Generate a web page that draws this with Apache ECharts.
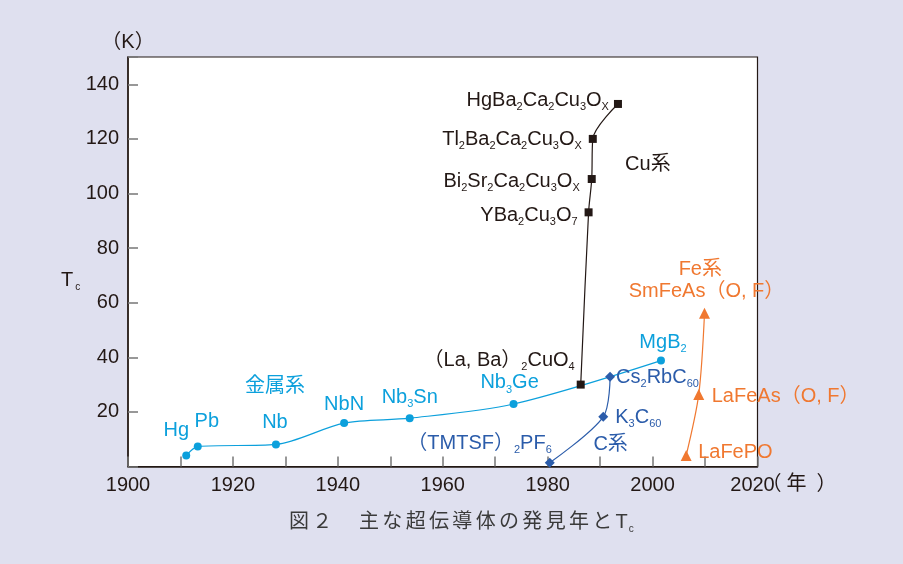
<!DOCTYPE html>
<html>
<head>
<meta charset="utf-8">
<script src="https://cdn.jsdelivr.net/npm/echarts@6/dist/echarts.min.js"></script>
<style>
html, body {margin: 0; padding: 0; background: #dfe0ef;}
#chart {width: 903px; height: 564px;}
</style>
</head>
<body>
<div id="chart"></div>
<script>
const FONT = '"Liberation Sans", Arial, "Noto Sans CJK JP", sans-serif'
const INK = '#231815'

// 目盛
const xTicks = [1900, 1920, 1940, 1960, 1980, 2000, 2020]
const yTicks = [20, 40, 60, 80, 100, 120, 140]

// 金属系
const metalNames = ['Hg', 'Pb', 'Nb', 'NbN', 'Nb_3Sn', 'Nb_3Ge', 'MgB_2']
const metalYears = [1911.1, 1913.3, 1928.2, 1941.2, 1953.7, 1973.5, 2001.6]
const metalTc = [4.0, 7.3, 8.1, 15.9, 17.7, 22.9, 38.8]

// Cu系
const cuNames = ['（La, Ba）_2CuO_4', 'YBa_2Cu_3O_7', 'Bi_2Sr_2Ca_2Cu_3O_X', 'Tl_2Ba_2Ca_2Cu_3O_X', 'HgBa_2Ca_2Cu_3O_X']
const cuYears = [1986.3, 1987.8, 1988.4, 1988.6, 1993.4]
const cuTc = [30.0, 93.1, 105.3, 120.0, 132.8]

// C系
const cNames = ['（TMTSF）_2PF_6', 'K_3C_60', 'Cs_2RbC_60']
const cYears = [1980.4, 1990.6, 1991.9]
const cTc = [1.4, 18.2, 32.9]

// Fe系
const feNames = ['LaFePO', 'LaFeAs（O, F）', 'SmFeAs（O, F）']
const feYears = [2006.4, 2008.8, 2009.9]
const feTc = [4.0, 26.4, 56.1]

// 系の名前
const groupNames = ['金属系', 'Cu系', 'C系', 'Fe系']
const groupYears = [1928.0, 1999.1, 1992.0, 2009.1]
const groupTc = [29.3, 110.8, 8.2, 72.3]

// ラベルの位置（点からのずれ）
const metalLabelOffset = [[-10, -25], [9, -25], [-1, -22], [0, -19], [0, -21], [-4, -21], [2, -18]]
const metalLabelAlign = ['center', 'center', 'center', 'center', 'center', 'center', 'center']
const cuLabelOffset = [[-6, -24], [-11, 3], [-12, 2], [-11, 1], [-9, -3]]
const cuLabelAlign = ['right', 'right', 'right', 'right', 'right']
const cLabelOffset = [[2, -19], [12, 1], [6, 1]]
const cLabelAlign = ['right', 'left', 'left']
const feLabelOffset = [[12, -3], [13, 2], [2, -22]]
const feLabelAlign = ['left', 'left', 'center']

//下付き文字をrichに変換
const toRich = function (name) {
  return name.split(/_([0-9X]+)/).map((s, i) => {
    if (s === '') return ''
    return i % 2 ? `{s|${s}}` : `{n|${s}}`
  }).join('')
}

const richStyle = function (color) {
  return {
    n: {fontSize: 20, lineHeight: 24, color: color, fontFamily: FONT},
    s: {fontSize: 11, lineHeight: 14, verticalAlign: 'bottom', color: color, fontFamily: FONT},
  }
}

const makeSeries = function (name, years, tc, names, offsets, aligns, color, symbol, size, g) {
  return {
    name: name,
    type: 'line',
    smooth: 0.3,
    symbol: symbol,
    symbolSize: size,
    showAllSymbol: true,
    clip: false,
    lineStyle: {color: color, width: 1.2},
    itemStyle: {color: color},
    data: years.map((x, i) => ({
      value: [x, tc[i]],
      label: {
        show: true,
        position: 'inside',
        offset: offsets[i],
        align: aligns[i],
        verticalAlign: 'middle',
        formatter: toRich(names[i]),
        rich: richStyle(color),
      },
    })),
    markPoint: {
      symbol: 'circle',
      symbolSize: 1,
      itemStyle: {color: 'rgba(0,0,0,0)'},
      label: {show: true, position: 'inside', formatter: '{b}', color: color, fontSize: 20, fontFamily: FONT},
      data: [{name: groupNames[g], coord: [groupYears[g], groupTc[g]]}],
    },
  }
}

const chart = echarts.init(document.getElementById('chart'), null, {renderer: 'canvas'})
chart.setOption({
  animation: false,
  backgroundColor: '#dfe0ef',
  title: [
    {
      text: '図\u2006２\u2006　\u2006主\u2006な\u2006超\u2006伝\u2006導\u2006体\u2006の\u2006発\u2006見\u2006年\u2006と\u2006{t|T}{c|c}',
      left: 289,
      top: 510,
      padding: 0,
      textStyle: {
        fontSize: 20, lineHeight: 24, fontWeight: 'normal', color: '#3a3a3a', fontFamily: FONT,
        rich: {
          t: {fontSize: 20, lineHeight: 24, fontWeight: 'normal', color: '#3a3a3a', fontFamily: FONT},
          c: {fontSize: 10, lineHeight: 16, fontWeight: 'normal', verticalAlign: 'bottom', color: '#3a3a3a', fontFamily: FONT, padding: [0, 0, 0, 1]},
        },
      },
    },
    {
      text: '{t|T}{c|c}',
      left: 61,
      top: 268,
      padding: 0,
      textStyle: {
        fontWeight: 'normal',
        rich: {
          t: {fontSize: 20, lineHeight: 24, fontWeight: 'normal', color: INK, fontFamily: FONT},
          c: {fontSize: 10, lineHeight: 12, fontWeight: 'normal', verticalAlign: 'bottom', color: INK, fontFamily: FONT, padding: [0, 0, 0, 2]},
        },
      },
    },
  ],
  grid: {
    left: 128, right: 145.5, top: 57, bottom: 97.5,
    show: true, backgroundColor: '#fff', borderColor: INK, borderWidth: 1.2,
    outerBoundsMode: 'none',
  },
  xAxis: {
    type: 'value',
    min: 1900,
    max: 2020,
    interval: 10,
    axisLine: {show: true, lineStyle: {color: INK, width: 1.5}},
    axisTick: {show: true, inside: true, length: 10, lineStyle: {color: '#777', width: 1.5}},
    axisLabel: {
      margin: 9,
      fontSize: 20,
      color: INK,
      fontFamily: FONT,
      formatter: function (v) {
        if (!xTicks.includes(v)) return ''
        return v === 2020 ? `{e|${v}}` : `${v}`
      },
      rich: {e: {fontSize: 20, color: INK, fontFamily: FONT, padding: [0, 10, 0, 0]}},
    },
    splitLine: {show: false},
    name: '（\u2005年\u2002）',
    nameLocation: 'end',
    nameGap: 4,
    nameMoveOverlap: false,
    nameTextStyle: {fontSize: 20, color: INK, fontFamily: FONT, align: 'left', verticalAlign: 'top', padding: [8, 0, 0, 0]},
  },
  yAxis: {
    type: 'value',
    min: 0,
    max: 150,
    interval: 20,
    axisLine: {show: true, lineStyle: {color: INK, width: 1.5}},
    axisTick: {show: true, inside: true, length: 10, lineStyle: {color: '#777', width: 1.5}},
    axisLabel: {
      margin: 9,
      fontSize: 20,
      color: INK,
      fontFamily: FONT,
      formatter: v => yTicks.includes(v) ? `${v}` : '',
    },
    splitLine: {show: false},
    name: '（K）',
    nameLocation: 'end',
    nameGap: 5,
    nameMoveOverlap: false,
    nameTextStyle: {fontSize: 20, color: INK, fontFamily: FONT, align: 'center'},
  },
  series: [
    makeSeries('金属系', metalYears, metalTc, metalNames, metalLabelOffset, metalLabelAlign, '#0ca0dc', 'circle', 8, 0),
    makeSeries('Cu系', cuYears, cuTc, cuNames, cuLabelOffset, cuLabelAlign, INK, 'rect', 8, 1),
    makeSeries('C系', cYears, cTc, cNames, cLabelOffset, cLabelAlign, '#2b5caa', 'diamond', 10, 2),
    makeSeries('Fe系', feYears, feTc, feNames, feLabelOffset, feLabelAlign, '#f07830', 'triangle', 11, 3),
  ],
})
</script>
</body>
</html>
